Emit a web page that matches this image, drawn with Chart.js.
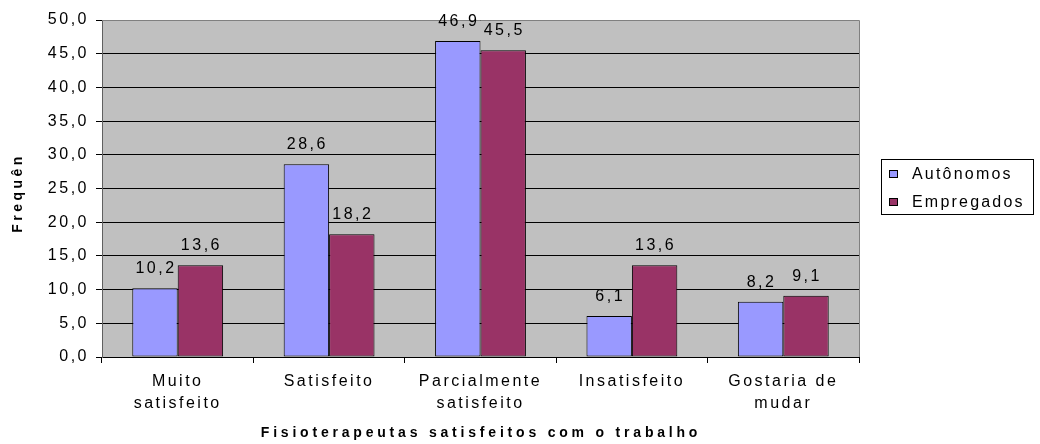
<!DOCTYPE html>
<html><head><meta charset="utf-8">
<script src="https://cdn.jsdelivr.net/npm/chart.js@4/dist/chart.umd.min.js"></script>
<style>html,body{margin:0;padding:0;background:#fff}#w{width:1040px;height:444px}</style>
</head><body><div id="w"><canvas id="c"></canvas></div>
<script>
const categories = [["Muito","satisfeito"],["Satisfeito"],["Parcialmente","satisfeito"],["Insatisfeito"],["Gostaria de","mudar"]];
const seriesNames = ["Autônomos","Empregados"];
const autonomos = [10.2, 28.6, 46.9, 6.1, 8.2];
const empregados = [13.6, 18.2, 45.5, 13.6, 9.1];
const seriesColors = ["#9999FF","#993366"];
const yMin = 0, yMax = 50, yStep = 5;
const yTitle = "Frequên";
const xTitle = "Fisioterapeutas satisfeitos com o trabalho";

const fmt = v => v.toFixed(1).replace('.', ',');
const FONT = '"Liberation Sans", Arial, sans-serif';
const SPACING = '2.5px';

const bgPlugin = {
  id: 'bg',
  beforeLayout(chart) { chart.ctx.letterSpacing = SPACING; },
  beforeDraw(chart) {
    const {ctx, chartArea: a} = chart;
    ctx.letterSpacing = SPACING;
    ctx.save();
    ctx.fillStyle = '#C0C0C0';
    ctx.fillRect(a.left, a.top, a.right - a.left, a.bottom - a.top);
    ctx.restore();
  },
  afterDatasetsDraw(chart) {
    const {ctx, chartArea: a} = chart;
    ctx.save();
    ctx.strokeStyle = '#808080';
    ctx.lineWidth = 1;
    ctx.beginPath();
    ctx.moveTo(a.left, a.top + 0.5); ctx.lineTo(a.right + 0.5, a.top + 0.5);
    ctx.lineTo(a.right + 0.5, a.bottom);
    ctx.stroke();
    // data labels
    ctx.letterSpacing = SPACING;
    ctx.fillStyle = '#000';
    ctx.font = '16px ' + FONT;
    ctx.textAlign = 'center';
    ctx.textBaseline = 'alphabetic';
    chart.data.datasets.forEach((ds, i) => {
      chart.getDatasetMeta(i).data.forEach((bar, j) => {
        ctx.fillText(fmt(ds.data[j]), bar.x + 1, bar.y - 15);
      });
    });
    // legend
    const lx = 881.5, ly = 159.5, lw = 152, lh = 55;
    ctx.strokeStyle = '#000';
    ctx.lineWidth = 1;
    ctx.fillStyle = '#fff';
    ctx.fillRect(lx, ly, lw, lh);
    ctx.strokeRect(lx, ly, lw, lh);
    ctx.textAlign = 'left';
    ctx.textBaseline = 'middle';
    chart.data.datasets.forEach((ds, i) => {
      const cy = 174 + i * 28;
      ctx.fillStyle = ds.backgroundColor;
      ctx.fillRect(889, cy - 3.5, 8, 7);
      ctx.strokeStyle = '#000';
      ctx.strokeRect(889.5, cy - 3.5, 8, 7);
      ctx.fillStyle = '#000';
      ctx.font = '16px ' + FONT;
      ctx.letterSpacing = '2.2px';
      ctx.fillText(ds.label, 912, cy + 1);
    });
    // axis titles
    ctx.font = 'bold 14px ' + FONT;
    ctx.letterSpacing = '3.8px';
    ctx.textAlign = 'center';
    ctx.textBaseline = 'middle';
    ctx.fillText(xTitle, 481, 433);
    ctx.save();
    ctx.translate(18, 195);
    ctx.rotate(-Math.PI / 2);
    ctx.letterSpacing = '3.5px';
    ctx.fillText(yTitle, 2, 0);
    ctx.restore();
    ctx.restore();
  }
};

new Chart(document.getElementById('c'), {
  type: 'bar',
  data: {
    labels: categories,
    datasets: [
      {label: seriesNames[0], data: autonomos, backgroundColor: seriesColors[0], borderColor: '#000', borderWidth: 1, borderSkipped: false},
      {label: seriesNames[1], data: empregados, backgroundColor: seriesColors[1], borderColor: '#000', borderWidth: 1, borderSkipped: false}
    ]
  },
  options: {
    responsive: true,
    maintainAspectRatio: false,
    animation: false,
    layout: {padding: {left: 0, right: 181, top: 20, bottom: 0}},
    plugins: {legend: {display: false}, tooltip: {enabled: false}},
    datasets: {bar: {categoryPercentage: 0.6, barPercentage: 1.0}},
    scales: {
      x: {
        grid: {display: true, drawOnChartArea: false, drawTicks: true, tickLength: 6, offset: true, color: '#000'},
        border: {display: false},
        ticks: {color: '#000', font: {size: 16, family: FONT, lineHeight: 1.375}, padding: 8, maxRotation: 0, autoSkip: false},
        afterFit(s) { s.height = 444 - 357; }
      },
      y: {
        min: yMin, max: yMax,
        grid: {color: '#000', tickLength: 6, drawTicks: true},
        border: {display: true, color: '#606060', width: 1},
        ticks: {stepSize: yStep, color: '#000', font: {size: 16, family: FONT}, padding: 7, callback: v => fmt(v)},
        afterFit(s) { s.width = 102; }
      }
    }
  },
  plugins: [bgPlugin]
});
</script>
</body></html>
